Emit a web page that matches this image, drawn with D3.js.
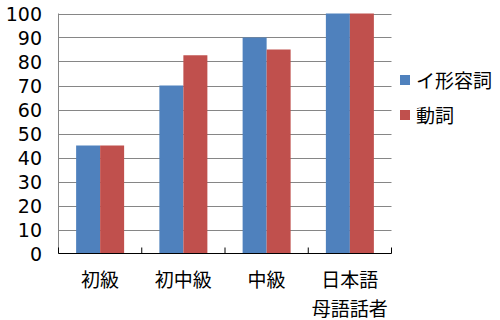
<!DOCTYPE html>
<html><head><meta charset="utf-8">
<script src="https://cdn.jsdelivr.net/npm/d3@7"></script>
<style>body{margin:0;background:#fff}</style>
</head><body>
<svg id="c" width="500" height="320"></svg>
<script>
const categories = [["初級"], ["初中級"], ["中級"], ["日本語", "母語話者"]];
const seriesNames = ["イ形容詞", "動詞"];
const adjValues = [45, 70, 90, 100];
const verbValues = [45, 82.6, 85, 100];
const yTicks = [0, 10, 20, 30, 40, 50, 60, 70, 80, 90, 100];
const colors = ["#4F81BD", "#C0504D"];

const font = "'Noto Sans CJK JP', sans-serif";
const numFont = "'DejaVu Sans', sans-serif";
const svg = d3.select("#c");
const L = 58.5, R = 391.5, T = 13.5, B = 253.5;
const x = d3.scaleBand().domain(d3.range(categories.length)).range([L, R]);
const xs = d3.scaleBand().domain([0, 1]).range([0, 48]);
const y = d3.scaleLinear().domain([0, 100]).range([B, T]);

// grid
svg.append("g").selectAll("line").data(yTicks.filter(d => d > 0)).join("line")
  .attr("x1", L).attr("x2", R).attr("y1", d => Math.round(y(d)) + 0.5).attr("y2", d => Math.round(y(d)) + 0.5)
  .attr("stroke", "#868686").attr("stroke-width", 1);

// left axis line
svg.append("line").attr("x1", L).attr("x2", L).attr("y1", T).attr("y2", B)
  .attr("stroke", "#868686");

// bars
const series = [adjValues, verbValues];
series.forEach((vals, si) => {
  svg.append("g").selectAll("rect").data(vals).join("rect")
    .attr("x", (d, i) => x(i) + x.bandwidth() / 2 - 24 + xs(si))
    .attr("width", 24)
    .attr("y", d => y(d))
    .attr("height", d => B - y(d))
    .attr("fill", colors[si]);
});

// bottom axis
const xAxis = d3.axisBottom(x).tickSize(0).tickFormat("");
const gx = svg.append("g").attr("transform", `translate(0,${B})`).call(xAxis);
gx.select(".domain").attr("stroke", "#000").attr("d", `M${L},0H${R}`);
// category boundary ticks (inside)
svg.append("g").selectAll("line").data(d3.range(categories.length + 1)).join("line")
  .attr("x1", i => i < categories.length ? x(i) : R).attr("x2", i => i < categories.length ? x(i) : R)
  .attr("y1", B).attr("y2", B - 6).attr("stroke", "#000");

// category labels
categories.forEach((lines, i) => {
  lines.forEach((t, li) => {
    svg.append("text").attr("x", x(i) + x.bandwidth() / 2).attr("y", 278.5 + li * 29)
      .attr("text-anchor", "middle").attr("dominant-baseline", "central")
      .attr("font-family", font).attr("font-size", 19).attr("fill", "#000").text(t);
  });
});

// y labels
const yAxis = d3.axisLeft(y).tickValues(yTicks).tickSize(0).tickPadding(0);
const gy = svg.append("g").attr("transform", `translate(42,0)`).call(yAxis);
gy.select(".domain").remove();
gy.selectAll("text").attr("font-family", numFont).attr("font-size", 19).attr("fill", "#000").attr("dy", "0.36em");

// legend
seriesNames.forEach((n, i) => {
  const ly = 79.5 + i * 35;
  svg.append("rect").attr("x", 400).attr("y", ly - 4.5).attr("width", 10).attr("height", 10).attr("fill", colors[i]);
  svg.append("text").attr("x", 416).attr("y", ly).attr("dominant-baseline", "central")
    .attr("font-family", font).attr("font-size", 19).attr("fill", "#000").text(n);
});
</script>
</body></html>
